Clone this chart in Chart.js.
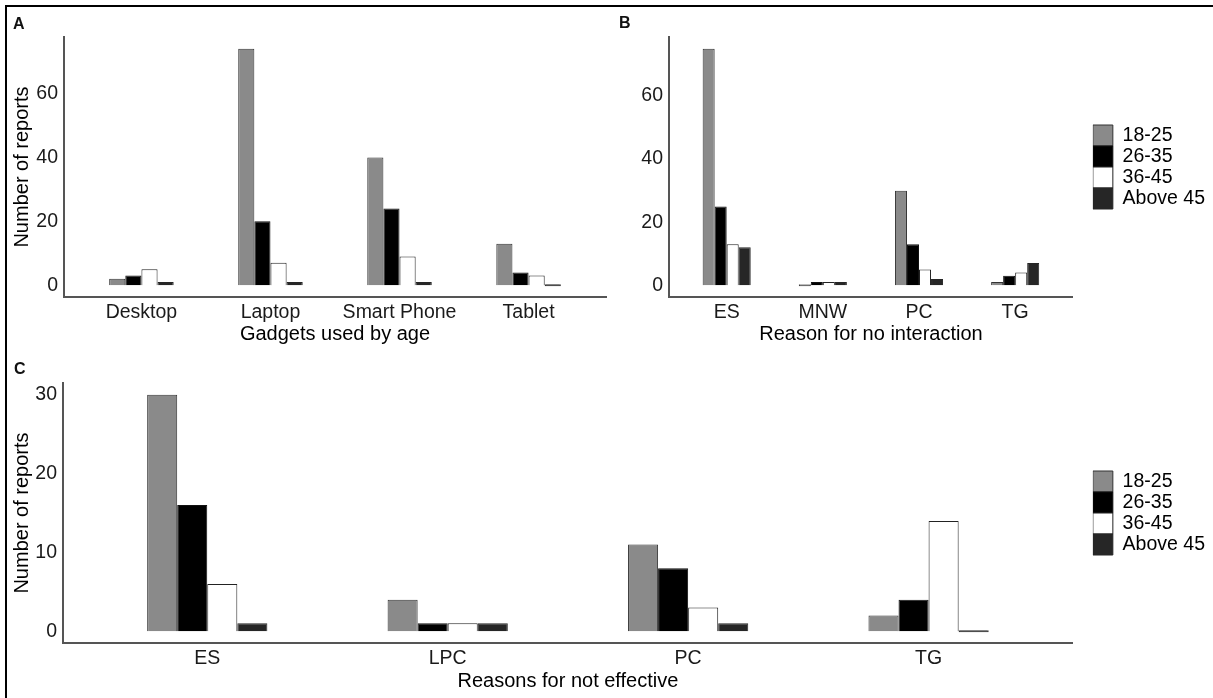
<!DOCTYPE html>
<html>
<head>
<meta charset="utf-8">
<script src="https://cdn.jsdelivr.net/npm/chart.js@4.4.0/dist/chart.umd.min.js"></script>
<style>
  html, body { margin: 0; padding: 0; background: #fff; }
  #page { position: relative; width: 1213px; height: 698px; overflow: hidden; font-family: 'Liberation Sans', Arial, sans-serif; }
  .frame { position: absolute; left: 5px; top: 5px; width: 1400px; height: 900px; border-left: 2px solid #000; border-top: 2px solid #000; }
  .panel { position: absolute; }
  .tag { position: absolute; font-weight: bold; font-size: 16px; line-height: 16px; color: #111; }
</style>
</head>
<body>
<div id="page">
  <div class="frame"></div>
  <canvas id="chartA" class="panel" width="620" height="345" style="left:0;top:0"></canvas>
  <canvas id="chartB" class="panel" width="615" height="345" style="left:600px;top:0"></canvas>
  <canvas id="chartC" class="panel" width="1215" height="353" style="left:0;top:345px"></canvas>
  <div class="tag" style="left:13px;top:16px">A</div>
  <div class="tag" style="left:619px;top:15px">B</div>
  <div class="tag" style="left:14px;top:361px">C</div>
</div>
<script>
'use strict';

// --- Data ---
const ageGroups = ['18-25', '26-35', '36-45', 'Above 45'];

const gadgetCats = ['Desktop', 'Laptop', 'Smart Phone', 'Tablet'];
const gadget18 = [2, 74, 40, 13];
const gadget26 = [3, 20, 24, 4];
const gadget36 = [5, 7, 9, 3];
const gadget45 = [1, 1, 1, 0];

const noInterCats = ['ES', 'MNW', 'PC', 'TG'];
const noInter18 = [75, 0, 30, 1];
const noInter26 = [25, 1, 13, 3];
const noInter36 = [13, 1, 5, 4];
const noInter45 = [12, 1, 2, 7];

const notEffCats = ['ES', 'LPC', 'PC', 'TG'];
const notEff18 = [30, 4, 11, 2];
const notEff26 = [16, 1, 8, 4];
const notEff36 = [6, 1, 3, 14];
const notEff45 = [1, 1, 1, 0];

const ticksAB = [0, 20, 40, 60];
const ticksC = [0, 10, 20, 30];

// --- Styles ---
const fills = ['#8a8a8a', '#000000', '#ffffff', '#262626'];
const outlines = ['#333333', '#111111', '#222222', '#262626'];
const axisColor = '#555555';
const FONT = "'Liberation Sans', Arial, sans-serif";

function buildDatasets(series) {
  return series.map((vals, k) => ({
    label: ageGroups[k],
    data: vals.map((v, i) => ({ x: i + 1, y: v })),
    backgroundColor: fills[k],
    borderColor: outlines[k],
    borderWidth: 1,
    minBarLength: 2,
    categoryPercentage: 0.5,
    barPercentage: 1
  }));
}

function makePanel(id, cfg) {
  const all = [].concat(...cfg.series);
  const top = Math.max(...all);
  const scales = {
    x: {
      type: 'linear',
      min: 0.4,
      max: cfg.cats.length + 0.6,
      offset: false,
      grid: { display: false, drawTicks: false },
      border: { display: true, color: axisColor, width: 2 },
      afterBuildTicks: s => { s.ticks = cfg.cats.map((c, i) => ({ value: i + 1 })); },
      afterFit: s => { s.height = cfg.xH; },
      ticks: {
        padding: 4, color: '#1a1a1a', autoSkip: false, maxRotation: 0,
        font: { family: FONT, size: 19.5 },
        callback: v => cfg.cats[v - 1]
      },
      title: {
        display: true, text: cfg.xTitle, color: '#000',
        font: { family: FONT, size: 20 },
        padding: { top: 0, bottom: cfg.xTitlePad }
      }
    },
    y: {
      type: 'linear',
      min: -0.05 * top,
      max: top * 1.05,
      grid: { display: false, drawTicks: false },
      border: { display: true, color: axisColor, width: 2 },
      afterBuildTicks: s => { s.ticks = cfg.yTicks.map(v => ({ value: v })); },
      afterFit: s => { s.width = cfg.yW; },
      ticks: { padding: 6, color: '#1a1a1a', font: { family: FONT, size: 19.5 } },
      title: {
        display: !!cfg.yTitle, text: cfg.yTitle || '', color: '#000',
        font: { family: FONT, size: 20 },
        padding: { top: 10, bottom: 0 }
      }
    }
  };
  if (cfg.legend) {
    // empty axis used as gap between plot and legend
    scales.gap = {
      type: 'linear', position: 'right', display: true,
      grid: { display: false, drawTicks: false },
      border: { display: false },
      ticks: { display: false },
      afterFit: s => { s.width = 20; }
    };
  }
  return new Chart(document.getElementById(id), {
    type: 'bar',
    data: { datasets: buildDatasets(cfg.series) },
    options: {
      responsive: false,
      animation: false,
      devicePixelRatio: 1,
      layout: { padding: cfg.pad },
      plugins: {
        tooltip: { enabled: false },
        legend: cfg.legend ? {
          display: true, position: 'right', align: 'center', fullSize: false, maxWidth: 200,
          labels: { boxWidth: 20, boxHeight: 21, padding: 0, color: '#000', font: { family: FONT, size: 19.5 } }
        } : { display: false }
      },
      scales: scales
    }
  });
}

makePanel('chartA', {
  cats: gadgetCats,
  series: [gadget18, gadget26, gadget36, gadget45],
  yTicks: ticksAB,
  xTitle: 'Gadgets used by age',
  yTitle: 'Number of reports',
  xH: 48, yW: 64, xTitlePad: -1,
  pad: { left: 0, top: 37, right: 14, bottom: 0 },
  legend: false
});

makePanel('chartB', {
  cats: noInterCats,
  series: [noInter18, noInter26, noInter36, noInter45],
  yTicks: ticksAB,
  xTitle: 'Reason for no interaction',
  yTitle: null,
  xH: 48, yW: 69, xTitlePad: -1,
  pad: { left: 0, top: 37, right: 0, bottom: 0 },
  legend: true
});

makePanel('chartC', {
  cats: notEffCats,
  series: [notEff18, notEff26, notEff36, notEff45],
  yTicks: ticksC,
  xTitle: 'Reasons for not effective',
  yTitle: 'Number of reports',
  xH: 55, yW: 63, xTitlePad: 5,
  pad: { left: 0, top: 38, right: 0, bottom: 0 },
  legend: true
});
</script>
</body>
</html>
